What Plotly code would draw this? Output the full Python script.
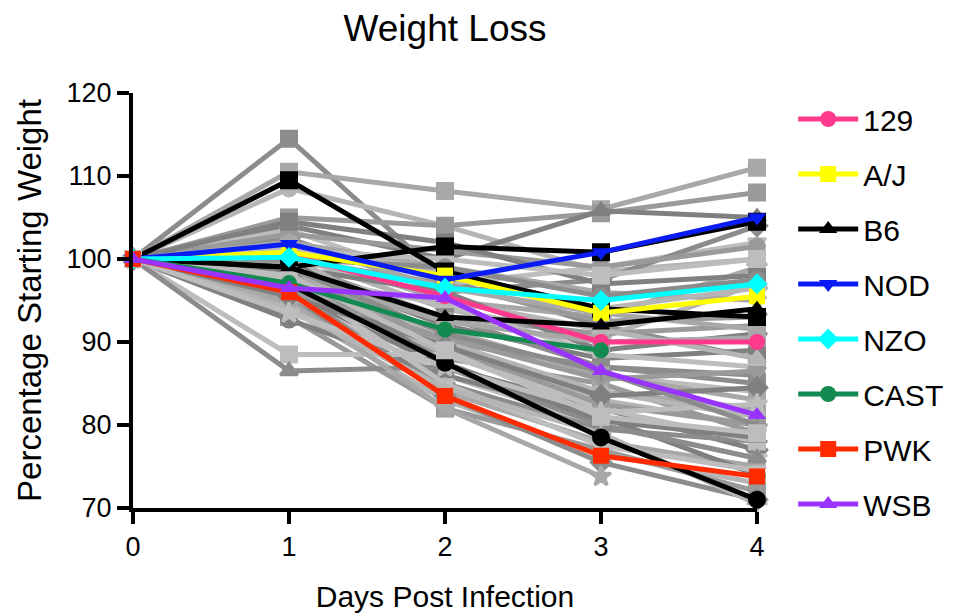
import plotly.graph_objects as go

# Days after infection
days = [0, 1, 2, 3, 4]

# Founder strains (percentage of starting weight per day)
founder_names = ["129", "A/J", "B6", "NOD", "NZO", "CAST", "PWK", "WSB"]
w_129 = [100, 100.5, 95.5, 90.0, 90.0]
w_aj = [100, 100.8, 98.0, 93.5, 95.5]
w_b6 = [100, 99.0, 93.0, 92.0, 94.0]
w_nod = [100, 101.8, 97.5, 100.8, 105.0]
w_nzo = [100, 100.2, 96.5, 95.0, 97.0]
w_cast = [100, 97.1, 91.5, 89.0, None]
w_pwk = [100, 96.0, 83.5, 76.3, 73.8]
w_wsb = [100, 96.5, 95.3, 86.5, 81.2]
founder_values = [w_129, w_aj, w_b6, w_nod, w_nzo, w_cast, w_pwk, w_wsb]
founder_colors = ["#ff3a8c", "#ffff00", "#000000", "#0a1cf5",
                  "#00ffff", "#128a50", "#ff2a00", "#9933ff"]
founder_symbols = ["circle", "square", "triangle-up", "triangle-down",
                   "diamond", "circle", "square", "triangle-up"]

# Collaborative Cross strains (drawn in grey behind the founders)
cc_strains = [
    [100, 114.5, 97.5, 92.0, 88.0],
    [100, 110.5, 108.2, 106.0, 111.0],
    [100, 108.5, 104.0, 98.5, 100.0],
    [100, 105.0, 104.0, 105.5, 108.0],
    [100, 104.0, 100.0, 105.8, 105.0],
    [100, 103.5, 97.0, 99.0, 102.0],
    [100, 102.5, 96.0, 97.5, 104.0],
    [100, 101.0, 95.0, 93.0, 99.0],
    [100, 100.5, 94.0, 90.5, 97.0],
    [100, 99.5, 93.0, 91.0, 92.0],
    [100, 99.0, 92.0, 88.0, 89.0],
    [100, 98.5, 91.0, 86.0, 84.0],
    [100, 98.0, 90.0, 87.0, 86.0],
    [100, 97.5, 89.0, 84.0, 82.0],
    [100, 97.0, 88.5, 83.0, 80.0],
    [100, 96.5, 88.0, 85.0, 79.0],
    [100, 96.0, 87.0, 82.0, 77.0],
    [100, 95.5, 86.0, 80.0, 76.0],
    [100, 95.0, 85.0, 79.5, 78.0],
    [100, 94.5, 84.0, 78.0, 75.0],
    [100, 94.0, 83.0, 76.5, 73.0],
    [100, 93.0, 82.0, 77.0, 72.0],
    [100, 92.7, 86.0, 81.0, 74.0],
    [100, 88.5, 88.5, 82.0, 78.0],
    [100, 86.5, 87.0, 80.0, 76.0],
    [100, 102.0, 99.0, 96.0, 95.0],
    [100, 101.5, 98.5, 94.0, 96.5],
    [100, 100.0, 97.0, 92.5, 93.0],
    [100, 99.0, 96.0, 89.0, 91.0],
    [100, 98.0, 94.5, 88.5, 87.0],
    [100, 97.0, 93.0, 87.0, 85.0],
    [100, 96.0, 91.5, 86.0, 83.0],
    [100, 100.5, 90.0, 84.0, 81.0],
    [100, 99.5, 89.5, 82.5, 80.0],
    [100, 98.5, 87.5, 80.5, 78.5],
    [100, 97.5, 85.0, 77.5, 74.5],
    [100, 96.5, 83.5, 75.5, 71.0],
    [100, 95.0, 82.0, 73.8, None],
    [100, 94.0, 84.5, 79.0, 70.5],
    [100, 103.0, 101.0, 99.0, 101.5],
    [100, 104.5, 102.0, 97.0, 98.0],
    [100, 101.0, 100.0, 98.0, 100.0],
    [100, 100.0, 99.0, 95.5, 97.5],
    [100, 98.0, 92.5, 90.0, 90.5],
    [100, 97.0, 95.0, 91.5, 88.0],
    [100, 96.0, 90.5, 85.5, 86.5],
    [100, 95.5, 89.5, 83.5, 84.5],
    [100, 93.5, 87.0, 81.5, 82.5],
    [100, 99.0, 91.0, 86.5, 80.0],
    [100, 102.0, 96.5, 93.5, 91.5],
    [100, 99.0, 101.5, 100.8, 104.5],
    [100, 109.5, 98.5, 94.0, 93.0],
    [100, 97.0, 87.5, 78.5, 71.0],
    [100, 98.0, 89.0, 81.0, 79.0],
]
cc_colors = ["#8c8c8c", "#a8a8a8", "#b5b5b5", "#9a9a9a", "#808080", "#bdbdbd"]
cc_black_rows = {50, 51, 52}
cc_symbols = ["square", "square", "circle", "square", "triangle-up",
              "triangle-down", "diamond", "star", "cross-thin", "circle"]

FONT = "Liberation Sans, Arial, Helvetica, sans-serif"

fig = go.Figure()

for i, row in enumerate(cc_strains):
    color = "#000000" if i in cc_black_rows else cc_colors[i % len(cc_colors)]
    sym = cc_symbols[i % len(cc_symbols)]
    fig.add_trace(go.Scatter(
        x=days, y=row, mode="lines+markers",
        line=dict(color=color, width=5),
        marker=dict(symbol=sym, size=15, color=color,
                    line=dict(color=color, width=3)),
        showlegend=False, hoverinfo="skip", cliponaxis=False,
        connectgaps=False,
    ))

for name, vals, color, sym in zip(founder_names, founder_values,
                                  founder_colors, founder_symbols):
    fig.add_trace(go.Scatter(
        x=days, y=vals, mode="lines+markers", name=name,
        line=dict(color=color, width=5),
        marker=dict(symbol=sym, size=16, color=color),
        legendgroup=name, cliponaxis=False,
    ))

fig.update_layout(
    width=969, height=616,
    margin=dict(l=133, r=212, t=93, b=108, autoexpand=False),
    paper_bgcolor="white", plot_bgcolor="white",
    font=dict(family=FONT, color="black"),
    title=dict(text="Weight Loss", x=0.5, xref="paper", y=1 - 28 / 616,
               yanchor="middle", xanchor="center",
               font=dict(size=37, family=FONT, color="black")),
    legend=dict(x=1.058, xanchor="left", y=1.0, yanchor="top",
                font=dict(size=30, family=FONT, color="black"),
                tracegroupgap=13, itemwidth=60, maxheight=600,
                bgcolor="rgba(0,0,0,0)"),
    showlegend=True,
)

fig.update_xaxes(
    range=[0, 4], tickvals=days, ticktext=[str(d) for d in days],
    automargin=False,
    showline=True, linecolor="black", linewidth=4,
    ticks="outside", ticklen=12, tickwidth=4, tickcolor="black",
    showgrid=False, zeroline=False,
    tickfont=dict(size=27, family=FONT, color="black"),
    title=dict(text="Days Post Infection", standoff=26,
               font=dict(size=30, family=FONT, color="black")),
)
fig.update_yaxes(
    range=[70, 120], tickvals=[70, 80, 90, 100, 110, 120],
    automargin=False,
    showline=True, linecolor="black", linewidth=4,
    ticks="outside", ticklen=12, tickwidth=4, tickcolor="black",
    showgrid=False, zeroline=False,
    tickfont=dict(size=27, family=FONT, color="black"),
    title=dict(text="Percentage Starting Weight", standoff=16,
               font=dict(size=33, family=FONT, color="black")),
)

fig.write_html("out.html")
